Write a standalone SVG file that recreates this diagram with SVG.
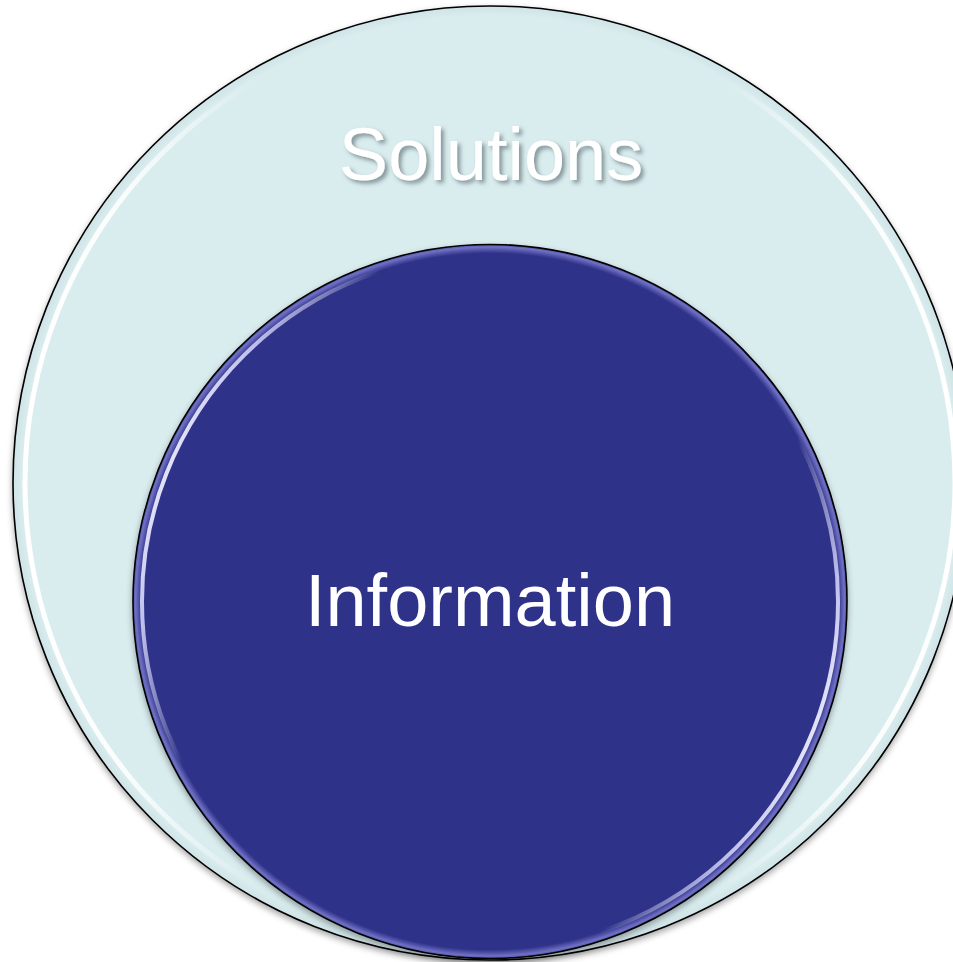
<svg xmlns="http://www.w3.org/2000/svg" width="953" height="962" viewBox="0 0 953 962">
  <style>
    .outline { stroke: #000000; stroke-width: 1.6; }
    .label { font-family: "Liberation Sans", Arial, sans-serif; font-size: 74px; fill: #ffffff; text-anchor: middle; }
  </style>
  <defs>
    <!-- soft shadow cast below each disc -->
    <filter id="discShadow" x="-10%" y="-10%" width="120%" height="125%">
      <feDropShadow dx="0" dy="3" stdDeviation="3" flood-color="#000000" flood-opacity="0.35"/>
    </filter>
    <filter id="textShadow" x="-10%" y="-20%" width="120%" height="150%">
      <feDropShadow dx="3" dy="3" stdDeviation="2" flood-color="#4a5a60" flood-opacity="0.6"/>
    </filter>
    <filter id="soften" x="-5%" y="-5%" width="110%" height="110%">
      <feGaussianBlur stdDeviation="0.7"/>
    </filter>
    <!-- bevel highlight: bright on the left and right flanks, gone at top and bottom -->
    <linearGradient id="sideSheen" x1="0" y1="0" x2="1" y2="0">
      <stop offset="0" stop-color="#ffffff" stop-opacity="1"/>
      <stop offset="0.1" stop-color="#ffffff" stop-opacity="0.9"/>
      <stop offset="0.25" stop-color="#ffffff" stop-opacity="0"/>
      <stop offset="0.75" stop-color="#ffffff" stop-opacity="0"/>
      <stop offset="0.9" stop-color="#ffffff" stop-opacity="0.9"/>
      <stop offset="1" stop-color="#ffffff" stop-opacity="1"/>
    </linearGradient>
    <linearGradient id="innerSheen" x1="0" y1="0.3" x2="1" y2="0.7">
      <stop offset="0" stop-color="#ffffff" stop-opacity="1"/>
      <stop offset="0.08" stop-color="#d8d8ff" stop-opacity="0.85"/>
      <stop offset="0.2" stop-color="#ffffff" stop-opacity="0"/>
      <stop offset="0.8" stop-color="#ffffff" stop-opacity="0"/>
      <stop offset="0.92" stop-color="#d8d8ff" stop-opacity="0.85"/>
      <stop offset="1" stop-color="#ffffff" stop-opacity="1"/>
    </linearGradient>
    <!-- inner disc: flat navy with a faint lavender rim glow -->
    <radialGradient id="navyRim" cx="0.5" cy="0.5" r="0.5">
      <stop offset="0" stop-color="#2e3088"/>
      <stop offset="0.975" stop-color="#2e3088"/>
      <stop offset="0.993" stop-color="#6f71c4"/>
      <stop offset="1" stop-color="#4e50a6"/>
    </radialGradient>
    <radialGradient id="paleRim" cx="0.5" cy="0.5" r="0.5">
      <stop offset="0" stop-color="#d9ecee"/>
      <stop offset="0.98" stop-color="#d9ecee"/>
      <stop offset="1" stop-color="#cfe4e7"/>
    </radialGradient>
  </defs>

  <rect width="953" height="962" fill="#ffffff"/>

  <!-- outer disc -->
  <g id="solutions">
    <circle cx="490" cy="483" r="477" fill="url(#paleRim)" class="outline" filter="url(#discShadow)"/>
    <circle cx="490" cy="483" r="465" fill="none" stroke="url(#sideSheen)" stroke-width="5" filter="url(#soften)"/>
    <text x="491" y="180" class="label" filter="url(#textShadow)">Solutions</text>
  </g>

  <!-- inner disc -->
  <g id="information">
    <circle cx="490" cy="601.5" r="357" fill="url(#navyRim)" class="outline" filter="url(#discShadow)"/>
    <circle cx="490" cy="601.5" r="348" fill="none" stroke="url(#innerSheen)" stroke-width="4" filter="url(#soften)"/>
    <text x="490" y="626" class="label">Information</text>
  </g>
</svg>
